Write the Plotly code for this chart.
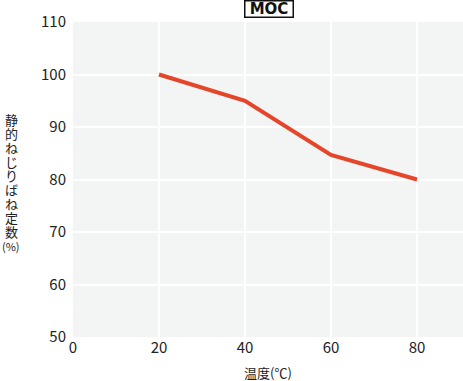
import plotly.graph_objects as go

temps = [20, 40, 60, 80]
values = [100, 95, 84.7, 80]
x_ticks = [0, 20, 40, 60, 80]
y_ticks = [50, 60, 70, 80, 90, 100, 110]
title_text = "MOC"
x_title = "温度(℃)"
y_title_chars = ["静", "的", "ね", "じ", "り", "ば", "ね", "定", "数", "(%)"]

font_family = "Noto Sans CJK JP, Noto Sans, sans-serif"

fig = go.Figure()
fig.add_trace(go.Scatter(x=temps, y=values, mode="lines",
                         line=dict(color="#e5462a", width=4), showlegend=False,
                         hoverinfo="skip"))

fig.update_layout(
    width=463, height=381,
    margin=dict(l=73, r=0, t=22, b=44),
    paper_bgcolor="white",
    plot_bgcolor="#f3f4f4",
    font=dict(family=font_family, size=15, color="#222"),
    xaxis=dict(range=[0, 90.7], tickvals=x_ticks, showgrid=True, gridcolor="white",
               gridwidth=2, zeroline=False, showline=False, ticks="",
               tickfont=dict(size=15, color="#222")),
    yaxis=dict(range=[50, 110], tickvals=y_ticks, showgrid=True, gridcolor="white",
               gridwidth=2, zeroline=False, showline=False, ticks="",
               tickfont=dict(size=15, color="#222"), ticklabelstandoff=6),
)

fig.add_annotation(text="<b>" + title_text + "</b>", xref="paper", yref="paper",
                   x=0.502, y=1, yanchor="bottom", yshift=4, showarrow=False,
                   font=dict(size=15, color="#111", family="DejaVu Sans, sans-serif"),
                   bordercolor="#111", borderwidth=1.5, borderpad=0,
                   bgcolor="white", width=47, height=15)
fig.add_annotation(text=x_title, xref="paper", yref="paper", x=0.5, y=0,
                   yanchor="top", yshift=-24, showarrow=False,
                   font=dict(size=13, color="#222", family=font_family))

n = len(y_title_chars)
pitch = 14
for i, ch in enumerate(y_title_chars):
    fig.add_annotation(text=ch, xref="paper", yref="paper",
                       x=0, xanchor="center", xshift=-62, y=0.5, yanchor="middle",
                       yshift=((n - 1) / 2 - i) * pitch - 3,
                       showarrow=False,
                       font=dict(size=13 if i < n - 1 else 11, color="#222",
                                 family=font_family))

fig.write_html("out.html",
               config={"displayModeBar": False},
               post_script="document.body.style.margin='0';document.body.style.overflow='hidden';")
